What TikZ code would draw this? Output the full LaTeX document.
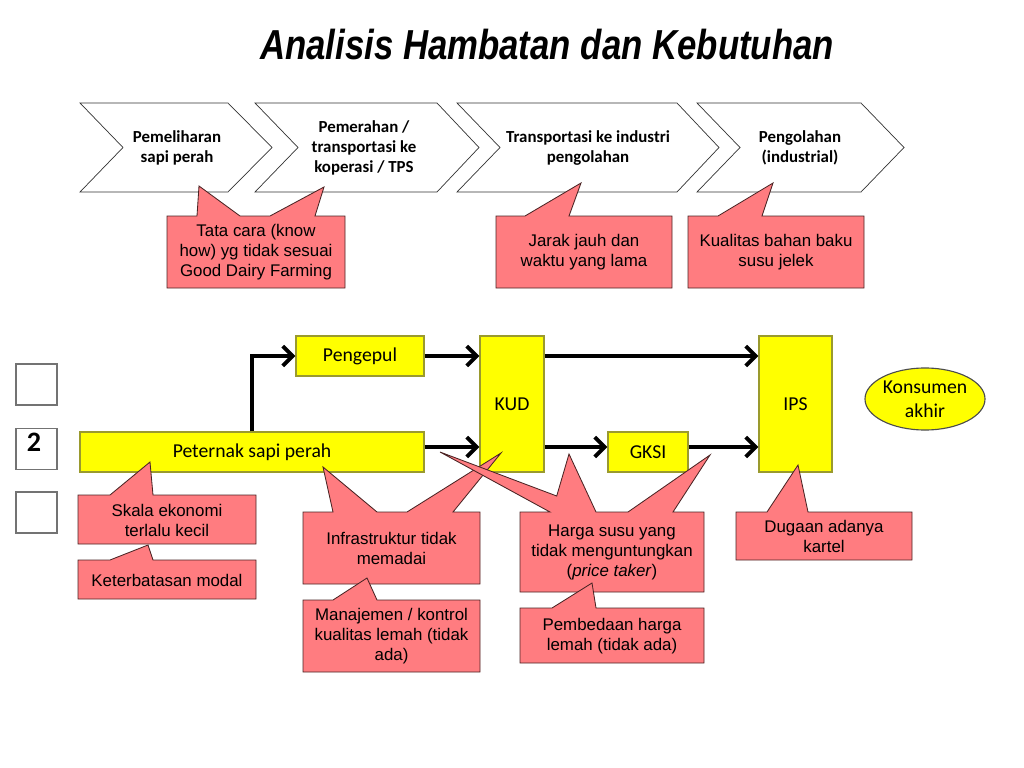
\documentclass[tikz,border=0pt]{standalone}
\usepackage{fontspec}
\setmainfont{Liberation Sans}
\newfontfamily\calibri{Carlito}
\usetikzlibrary{arrows.meta,shapes.geometric}

\definecolor{merahmuda}{HTML}{FF7C80}
\definecolor{garismerah}{HTML}{4A2424}
\definecolor{kuning}{HTML}{FFFF00}
\definecolor{gariskuning}{HTML}{9A9A2E}

\tikzset{
  tahap/.style={draw=black!80, line width=0.5pt, fill=white},
  tahaptext/.style={font=\calibri\bfseries\fontsize{12}{14.2}\selectfont, align=center},
  hambatan/.style={draw=garismerah, line width=0.6pt, fill=merahmuda},
  hambtext/.style={font=\fontsize{12}{14.2}\selectfont, align=center},
  pelaku/.style={draw=gariskuning, line width=0.8pt, fill=kuning, inner sep=0pt,
    font=\calibri\fontsize{14}{16.8}\selectfont, align=center},
  kotak/.style={draw=black!55, line width=0.8pt, minimum size=1.025cm, inner sep=0pt},
  alir/.style={line width=2.8pt, -{Straight Barb[length=7pt,width=14pt]}},
}

\begin{document}
\begin{tikzpicture}[x=0.025cm, y=-0.025cm]
  \useasboundingbox (0,0) rectangle (1024,768);

  % Judul
  \node (judul) at (547,45) {\scalebox{0.83}[1]{\fontsize{29.8}{34}\selectfont\bfseries\itshape Analisis Hambatan dan Kebutuhan}};

  % Rantai tahapan
  \draw[tahap] (80,103) -- (228,103) -- (272,147.5) -- (228,192) -- (80,192) -- (123,147.5) -- cycle;
  \draw[tahap] (255,103) -- (437,103) -- (479,147.5) -- (437,192) -- (255,192) -- (298,147.5) -- cycle;
  \draw[tahap] (457,103) -- (677,103) -- (719,147.5) -- (677,192) -- (457,192) -- (500,147.5) -- cycle;
  \draw[tahap] (697,103) -- (861,103) -- (904,147.5) -- (861,192) -- (697,192) -- (740,147.5) -- cycle;
  \node[tahaptext] (pelihara) at (177,148) {Pemeliharan\\sapi perah};
  \node[tahaptext] (perah) at (364,148) {Pemerahan /\\transportasi ke\\koperasi / TPS};
  \node[tahaptext] (angkut) at (588,148) {Transportasi ke industri\\pengolahan};
  \node[tahaptext] (olah) at (800,148) {Pengolahan\\(industrial)};

  % Hambatan per tahap
  \draw[hambatan] (167,216) -- (197,216) -- (199,186) -- (240,216) -- (270,216) -- (324,187)
    -- (315,216) -- (345,216) -- (345,288) -- (167,288) -- cycle;
  \node[hambtext] (tatacara) at (256,252) {Tata cara (know\\how) yg tidak sesuai\\Good Dairy Farming};
  \draw[hambatan] (496,216) -- (525,216) -- (581,183) -- (569,216) -- (672,216) -- (672,288) -- (496,288) -- cycle;
  \node[hambtext] (jarak) at (584,252) {Jarak jauh dan\\waktu yang lama};
  \draw[hambatan] (688,216) -- (718,216) -- (773,183) -- (762,216) -- (864,216) -- (864,288) -- (688,288) -- cycle;
  \node[hambtext] (kualitas) at (776,252) {Kualitas bahan baku\\susu jelek};

  % Kotak nomor
  \node[kotak] (kotak1) at (36.5,384.5) {};
  \node[kotak] (kotak2) at (36.5,449) {};
  \node[kotak] (kotak3) at (36.5,512.5) {};
  \node[font=\calibri\bfseries\fontsize{20}{24}\selectfont] (nomor) at (34,442) {2};

  % Pelaku rantai susu
  \node[pelaku, minimum width=8.6cm, minimum height=1cm] (peternak) at (252,452) {Peternak sapi perah};
  \node[pelaku, minimum width=3.2cm, minimum height=1cm] (pengepul) at (360,356) {Pengepul};
  \node[pelaku, minimum width=1.6cm, minimum height=3.4cm] (kud) at (512,404) {KUD};
  \node[pelaku, minimum width=2cm, minimum height=1cm] (gksi) at (648,452) {GKSI};
  \node[pelaku, minimum width=1.825cm, minimum height=3.4cm] (ips) at (795.5,404) {IPS};
  \node[pelaku, ellipse, draw=black!70, minimum width=3cm, minimum height=1.55cm] (konsumen) at (925,399) {Konsumen\\akhir};

  \draw[alir] (peternak.north) |- (pengepul.west);
  \draw[alir] (pengepul.east) -- (pengepul.east -| kud.west);
  \draw[alir] ([yshift=0.125cm]peternak.east) -- ([yshift=0.125cm]peternak.east -| kud.west);
  \draw[alir] (kud.east |- pengepul.east) -- (ips.west |- pengepul.east);
  \draw[alir] ([yshift=0.125cm]kud.east |- gksi.west) -- ([yshift=0.125cm]gksi.west);
  \draw[alir] ([yshift=0.125cm]gksi.east) -- ([yshift=0.125cm]gksi.east -| ips.west);

  % Hambatan per pelaku
  \draw[hambatan] (78,495) -- (110,495) -- (150,462) -- (153,495) -- (256,495) -- (256,544) -- (78,544) -- cycle;
  \node[hambtext] (skala) at (167,520) {Skala ekonomi\\terlalu kecil};
  \draw[hambatan] (78,560) -- (110,560) -- (148,545) -- (153,560) -- (256,560) -- (256,599) -- (78,599) -- cycle;
  \node[hambtext] (modal) at (167,580) {Keterbatasan modal};
  \draw[hambatan] (303,512) -- (333,512) -- (323,467) -- (377,512) -- (407,512) -- (501,453) -- (453,512)
    -- (480,512) -- (480,584) -- (303,584) -- cycle;
  \node[hambtext] (infra) at (391.5,548) {Infrastruktur tidak\\memadai};
  \draw[hambatan] (303,600) -- (333,600) -- (367,578) -- (377,600) -- (480,600) -- (480,672) -- (303,672) -- cycle;
  \node[hambtext] (manajemen) at (391.5,636) {Manajemen / kontrol\\kualitas lemah (tidak\\ada)};
  \draw[hambatan] (520,512) -- (550,512) -- (440,452) -- (556.7,496) -- (569,454) -- (596,512) -- (628,512)
    -- (710,455) -- (673,512) -- (704,512) -- (704,592) -- (520,592) -- cycle;
  \node[hambtext] (harga) at (612,552) {Harga susu yang\\tidak menguntungkan\\(\textit{price taker})};
  \draw[hambatan] (520,608) -- (552,608) -- (592,583) -- (596,608) -- (704,608) -- (704,663) -- (520,663) -- cycle;
  \node[hambtext] (beda) at (612,636) {Pembedaan harga\\lemah (tidak ada)};
  \draw[hambatan] (736,512) -- (767,512) -- (798,465) -- (808,512) -- (912,512) -- (912,560) -- (736,560) -- cycle;
  \node[hambtext] (kartel) at (824,536) {Dugaan adanya\\kartel};
\end{tikzpicture}
\end{document}
